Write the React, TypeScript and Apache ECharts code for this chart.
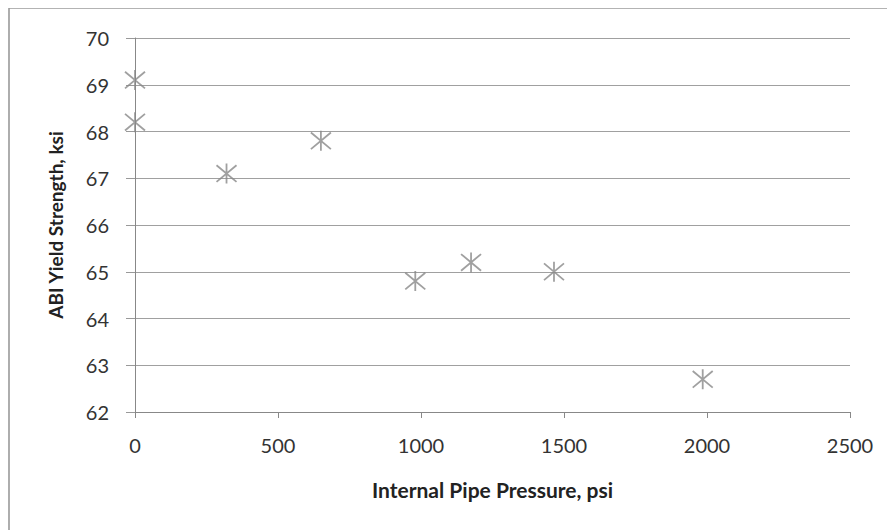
import React, { useEffect, useRef } from "react";
import * as echarts from "echarts";

const pressure = [0, 0, 320, 650, 980, 1175, 1465, 1985];
const yieldStrength = [69.1, 68.2, 67.1, 67.8, 64.8, 65.2, 65.0, 62.7];
const xTitle = "Internal Pipe Pressure, psi";
const yTitle = "ABI Yield Strength, ksi";

const FONT = "Lato, 'Open Sans', sans-serif";
const STAR = "path://M0,0 L10,10 M10,0 L0,10 M5,-1 L5,11";

export default function App() {
  const ref = useRef<HTMLDivElement>(null);
  useEffect(() => {
    if (!ref.current) return;
    const chart = echarts.init(ref.current, null, { renderer: "svg" });
    chart.setOption({
      animation: false,
      backgroundColor: "#fff",
      graphic: [
        {
          type: "rect",
          shape: { x: 9, y: 8, width: 1000, height: 600 },
          style: { fill: "none", stroke: "#9a9a9a", lineWidth: 1.6 },
          silent: true,
          z: 100,
        },
      ],
      grid: { left: 135, right: 45, top: 38, bottom: 118 },
      xAxis: {
        type: "value",
        min: 0,
        max: 2500,
        interval: 500,
        name: xTitle,
        nameLocation: "middle",
        nameGap: 67,
        nameTextStyle: { fontFamily: FONT, fontSize: 21, fontWeight: "bold", color: "#222" },
        axisLine: { show: true, lineStyle: { color: "#888" } },
        axisTick: { show: true, length: 6, lineStyle: { color: "#888" } },
        axisLabel: { fontFamily: FONT, fontSize: 20, color: "#333", margin: 23, formatter: (v: number) => String(v) },
        splitLine: { show: false },
      },
      yAxis: {
        type: "value",
        min: 62,
        max: 70,
        interval: 1,
        name: yTitle,
        nameLocation: "middle",
        nameGap: 70,
        nameTextStyle: { fontFamily: FONT, fontSize: 19, fontWeight: "bold", color: "#222" },
        axisLine: { show: true, lineStyle: { color: "#888" } },
        axisTick: { show: true, length: 9, lineStyle: { color: "#999" } },
        axisLabel: { fontFamily: FONT, fontSize: 20, color: "#333", margin: 26 },
        splitLine: { show: true, lineStyle: { color: "#a0a0a0", width: 1 } },
      },
      series: [
        {
          type: "scatter",
          data: pressure.map((x, i) => [x, yieldStrength[i]]),
          symbol: STAR,
          symbolSize: 20,
          itemStyle: { color: "none", borderColor: "#888", borderWidth: 1.8 },
        },
      ],
    });
    return () => chart.dispose();
  }, []);
  return <div ref={ref} style={{ width: 895, height: 530, marginLeft: -8, marginTop: -8 }} />;
}
